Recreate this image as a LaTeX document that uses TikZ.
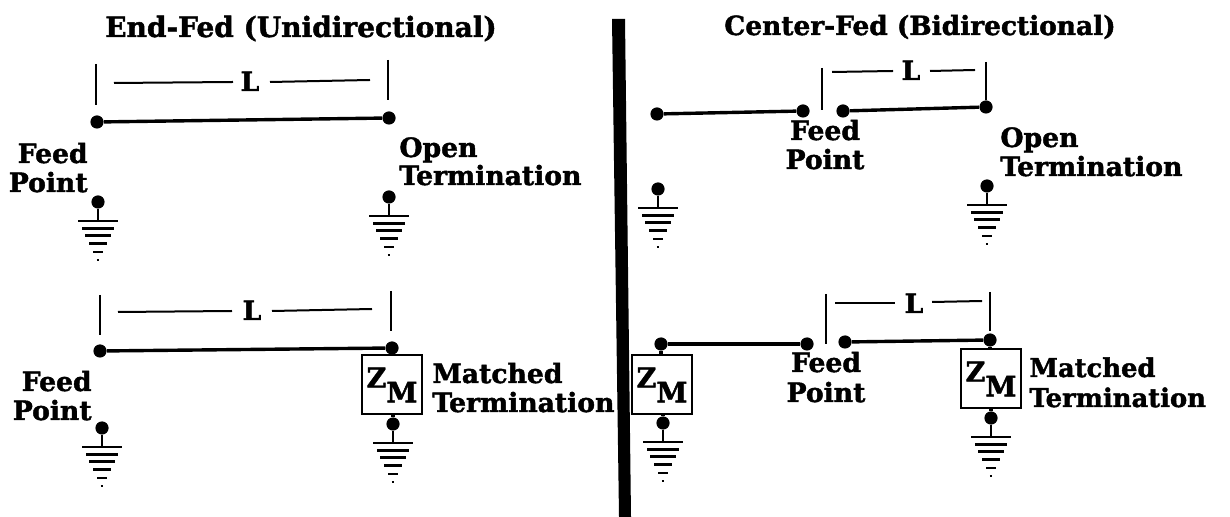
\documentclass[tikz,border=0pt]{standalone}
\usepackage{fontspec}
\setmainfont[BoldFeatures={FakeBold=1.6}]{DejaVu Serif}
\tikzset{
 px/.style={x=0.5pt,y=-0.5pt},
 dotn/.style={circle,fill=black,inner sep=0pt,minimum size=6.6pt},
 wire/.style={line width=1.7pt,black},
 thin line/.style={line width=1pt,black},
 lbl/.style={font=\bfseries\fontsize{13.3}{15}\selectfont,inner sep=0pt,anchor=base west,text=black},
 lblr/.style={lbl,anchor=base east},
 lblc/.style={lbl,anchor=base},
 lblsm/.style={lbl,font=\bfseries\fontsize{12.9}{15}\selectfont},
 ttl/.style={font=\bfseries\fontsize{14}{16}\selectfont,inner sep=0pt,anchor=base,text=black},
 ttlsm/.style={ttl,font=\bfseries\fontsize{13.2}{16}\selectfont},
 zbox/.style={draw=black,line width=1pt,minimum width=30pt,minimum height=29.5pt,inner sep=0pt,fill=white,font=\bfseries\fontsize{13.5}{15}\selectfont},
}
\newcommand{\zm}{\raisebox{3pt}{Z}\hspace{0pt}\raisebox{-4.5pt}{\fontsize{14}{15}\selectfont M}}
% \gnd{name}{x}{y of dot}
\newcommand{\gnd}[3]{%
 \node[dotn] (#1) at (#2,#3) {};
 \coordinate (#1b) at (#2,#3+19);
 \draw[line width=1.2pt] (#1) -- (#1b);
 \foreach \d/\w/\t in {0/20/1.3,7.5/16/1.5,15/13/1.5,23/9/1.5,31/5/1.4,39/1.2/1.3}
   \draw[line width=\t pt] ([xshift=-\w*0.5pt,yshift=-\d*0.5pt]#1b) -- ([xshift=\w*0.5pt,yshift=-\d*0.5pt]#1b);
}
\begin{document}
\begin{tikzpicture}[px]
\useasboundingbox (0,0) rectangle (1230,517);
% central bar
\fill[black] (612,19) -- (625,19) -- (631,517) -- (619,517) -- cycle;
% titles
\node[ttl] (t1) at (301,37) {End-Fed (Unidirectional)};
\node[ttlsm] (t2) at (920,35) {Center-Fed (Bidirectional)};
% top left
\node[dotn] (a1) at (97,122) {};
\node[dotn] (a2) at (389,118) {};
\draw[wire] (a1) -- (a2);
\coordinate (a3) at (96,64); \coordinate (a4) at (96,105);
\coordinate (a5) at (388,60); \coordinate (a6) at (388,100);
\draw[thin line] (a3) -- (a4); \draw[thin line] (a5) -- (a6);
\node[lblc] (aL) at (250,91) {L};
\coordinate (a7) at (114,83); \coordinate (a8) at (233,82);
\coordinate (a9) at (270,82); \coordinate (a10) at (370,80);
\draw[thin line] (a7) -- (a8); \draw[thin line] (a9) -- (a10);
\node[lblr] (aF) at (88,163) {Feed};
\node[lblr] (aP) at (88,192) {Point};
\node[lbl] (aO) at (399,157) {Open};
\node[lbl] (aT) at (399,185) {Termination};
\gnd{ag}{98}{202}
\gnd{ah}{389}{197}
% bottom left
\node[dotn] (b1) at (100,351) {};
\node[dotn] (b2) at (392,348) {};
\draw[wire] (b1) -- (b2);
\coordinate (b3) at (100,295); \coordinate (b4) at (100,335);
\coordinate (b5) at (391,291); \coordinate (b6) at (391,331);
\draw[thin line] (b3) -- (b4); \draw[thin line] (b5) -- (b6);
\node[lblc] (bL) at (252,320) {L};
\coordinate (b7) at (118,312); \coordinate (b8) at (232,311);
\coordinate (b9) at (272,311); \coordinate (b10) at (372,309);
\draw[thin line] (b7) -- (b8); \draw[thin line] (b9) -- (b10);
\node[zbox] (bZ) at (392,385) {\zm};
\draw[wire] (b2) -- (bZ.north -| b2);
\node[lblr] (bF) at (92,391) {Feed};
\node[lblr] (bP) at (92,420) {Point};
\node[lbl] (bO) at (432,383) {Matched};
\node[lbl] (bT) at (432,412) {Termination};
\gnd{bg}{102}{428}
\gnd{bh}{393}{424}
\draw[wire] (bh) -- (bZ.south -| bh);
% top right
\node[dotn] (c1) at (657,114) {};
\node[dotn] (c2) at (803,111) {};
\node[dotn] (c3) at (843,111) {};
\node[dotn] (c4) at (986,107) {};
\draw[wire] (c1) -- (c2); \draw[wire] (c3) -- (c4);
\coordinate (c5) at (822,68); \coordinate (c6) at (822,110);
\coordinate (c7) at (986,62); \coordinate (c8) at (986,100);
\draw[thin line] (c5) -- (c6); \draw[thin line] (c7) -- (c8);
\node[lblc] (cL) at (911,80) {L};
\coordinate (c9) at (832,72); \coordinate (c10) at (893,71);
\coordinate (c11) at (930,71); \coordinate (c12) at (975,70);
\draw[thin line] (c9) -- (c10); \draw[thin line] (c11) -- (c12);
\node[lblc] (cF) at (825,140) {Feed};
\node[lblc] (cP) at (825,169) {Point};
\node[lbl] (cO) at (1000,147) {Open};
\node[lbl] (cT) at (1000,176) {Termination};
\gnd{cg}{658}{189}
\gnd{ch}{987}{186}
% bottom right
\node[dotn] (d1) at (661,344) {};
\node[dotn] (d2) at (807,344) {};
\node[dotn] (d3) at (845,342) {};
\node[dotn] (d4) at (990,340) {};
\draw[wire] (d1) -- (d2); \draw[wire] (d3) -- (d4);
\coordinate (d5) at (826,294); \coordinate (d6) at (826,344);
\coordinate (d7) at (990,292); \coordinate (d8) at (990,331);
\draw[thin line] (d5) -- (d6); \draw[thin line] (d7) -- (d8);
\node[lblc] (dL) at (914,313) {L};
\coordinate (d9) at (835,303); \coordinate (d10) at (895,303);
\coordinate (d11) at (932,302); \coordinate (d12) at (982,301);
\draw[thin line] (d9) -- (d10); \draw[thin line] (d11) -- (d12);
\node[zbox] (dZa) at (662,385) {\zm};
\node[zbox] (dZb) at (991,379) {\zm};
\draw[wire] (d1) -- (dZa.north -| d1);
\draw[wire] (d4) -- (dZb.north -| d4);
\node[lblc] (dF) at (826,372) {Feed};
\node[lblc] (dP) at (826,402) {Point};
\node[lblsm] (dO) at (1029,377) {Matched};
\node[lblsm] (dT) at (1029,407) {Termination};
\gnd{dg}{663}{423}
\gnd{dh}{991}{418}
\draw[wire] (dg) -- (dZa.south -| dg);
\draw[wire] (dh) -- (dZb.south -| dh);
\end{tikzpicture}
\end{document}
